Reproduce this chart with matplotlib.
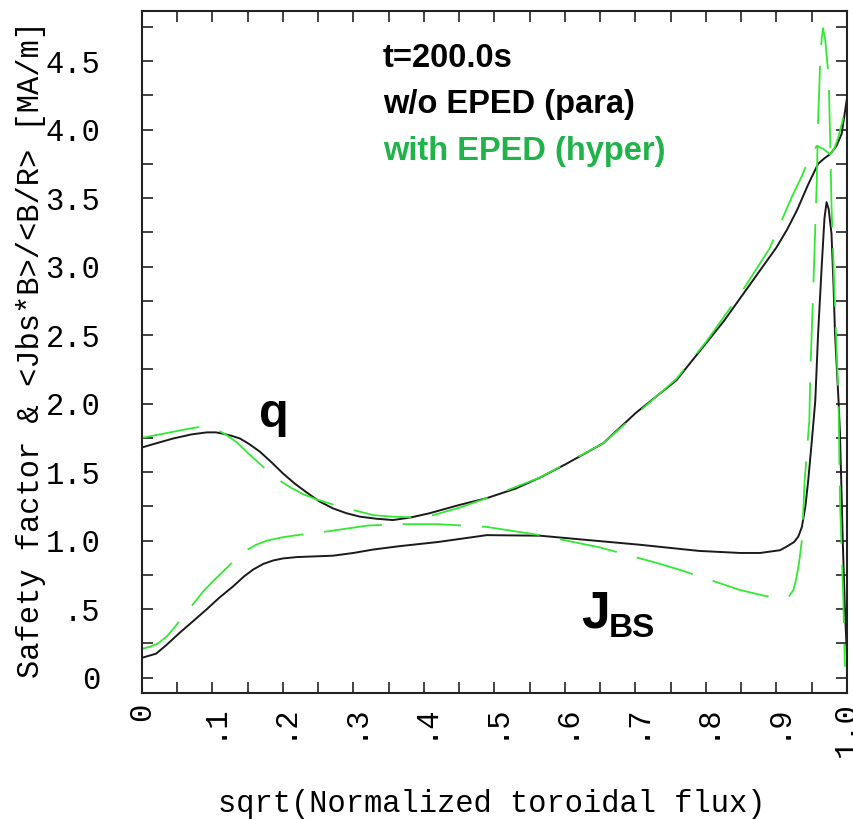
import matplotlib
matplotlib.use("Agg")
import matplotlib.pyplot as plt
from matplotlib.ticker import FixedLocator, FixedFormatter

# ---------------- data ----------------
q_para_x = [0.0, 0.02, 0.044, 0.07, 0.092, 0.105, 0.115, 0.127, 0.139, 0.152, 0.167,
            0.183, 0.2, 0.217, 0.234, 0.252, 0.271, 0.29, 0.309, 0.332, 0.356,
            0.382, 0.408, 0.45, 0.489, 0.53, 0.5645, 0.60, 0.654, 0.70, 0.758,
            0.80, 0.825, 0.85, 0.875, 0.90, 0.915, 0.929, 0.945, 0.959, 0.968,
            0.976, 0.985, 0.9925, 1.0]
q_para_y = [1.68, 1.71, 1.745, 1.775, 1.79, 1.79, 1.78, 1.765, 1.745, 1.705, 1.65,
            1.575, 1.49, 1.415, 1.35, 1.285, 1.235, 1.20, 1.175, 1.16, 1.15,
            1.17, 1.20, 1.26, 1.31, 1.38, 1.46, 1.555, 1.71, 1.93, 2.17,
            2.44, 2.60, 2.78, 2.96, 3.14, 3.27, 3.41, 3.60, 3.75, 3.79,
            3.82, 3.88, 3.97, 4.23]

q_hyper_x = [0.0, 0.04, 0.065, 0.082, 0.10, 0.11, 0.12, 0.135, 0.15, 0.165, 0.18,
             0.195, 0.21, 0.228, 0.248, 0.27, 0.29, 0.31, 0.328, 0.355, 0.385,
             0.413, 0.45, 0.489, 0.5645, 0.654, 0.758, 0.80, 0.85, 0.89,
             0.921, 0.936, 0.947, 0.957, 0.966, 0.976, 0.982, 0.988, 0.994, 1.0]
q_hyper_y = [1.75, 1.79, 1.815, 1.83, 1.82, 1.80, 1.77, 1.715, 1.64, 1.57, 1.50,
             1.44, 1.39, 1.34, 1.30, 1.265, 1.235, 1.21, 1.186, 1.175, 1.17,
             1.186, 1.24, 1.31, 1.46, 1.71, 2.18, 2.45, 2.81, 3.13,
             3.50, 3.66, 3.80, 3.88, 3.86, 3.82, 3.86, 3.95, 4.07, 4.23]

jbs_para_x = [0.0, 0.02, 0.035, 0.054, 0.072, 0.092, 0.11, 0.129, 0.145, 0.158,
              0.172, 0.186, 0.20, 0.22, 0.245, 0.271, 0.30, 0.328, 0.366, 0.42,
              0.489, 0.5645, 0.62, 0.706, 0.79, 0.848, 0.877, 0.905, 0.914,
              0.925, 0.931, 0.936, 0.941, 0.945, 0.95, 0.955, 0.959, 0.964,
              0.968, 0.971, 0.974, 0.978, 0.981, 0.983, 0.988, 0.990, 0.992,
              0.9937, 0.997, 1.0]
jbs_para_y = [0.145, 0.175, 0.24, 0.33, 0.41, 0.50, 0.585, 0.665, 0.74, 0.79,
              0.83, 0.855, 0.87, 0.88, 0.885, 0.89, 0.91, 0.935, 0.96, 0.99,
              1.04, 1.036, 1.01, 0.97, 0.925, 0.91, 0.91, 0.93, 0.955,
              0.99, 1.03, 1.10, 1.25, 1.44, 1.72, 2.02, 2.51, 2.99,
              3.35, 3.47, 3.42, 3.24, 2.85, 2.51, 2.02, 1.78, 1.40,
              1.05, 0.5, 0.15]

jbs_hyper_x = [0.0, 0.011, 0.023, 0.035, 0.045, 0.066, 0.087, 0.10, 0.12, 0.135,
               0.148, 0.162, 0.177, 0.20, 0.22, 0.267, 0.32, 0.366, 0.42, 0.489,
               0.5645, 0.621, 0.65, 0.735, 0.767, 0.848, 0.881, 0.895, 0.91,
               0.918, 0.924, 0.928, 0.932, 0.936, 0.940, 0.9466, 0.948, 0.952,
               0.957, 0.959, 0.962, 0.964, 0.966, 0.969, 0.974, 0.976, 0.978,
               0.983, 0.988, 0.990, 0.9948, 0.997]
jbs_hyper_y = [0.21, 0.225, 0.25, 0.30, 0.36, 0.495, 0.63, 0.70, 0.80, 0.875,
               0.93, 0.97, 1.00, 1.025, 1.04, 1.07, 1.11, 1.12, 1.12, 1.10,
               1.04, 0.98, 0.95, 0.83, 0.78, 0.64, 0.60, 0.585, 0.575,
               0.595, 0.64, 0.72, 0.84, 1.00, 1.44, 1.88, 2.22, 2.82,
               3.60, 4.06, 4.50, 4.66, 4.74, 4.66, 4.38, 3.95, 3.45,
               2.70, 2.02, 1.30, 0.57, 0.08]

x_major = [0.0, 0.1, 0.2, 0.3, 0.4, 0.5, 0.6, 0.7, 0.8, 0.9, 1.0]
x_labels = ["0", ".1", ".2", ".3", ".4", ".5", ".6", ".7", ".8", ".9", "1.0"]
y_major = [0.0, 0.5, 1.0, 1.5, 2.0, 2.5, 3.0, 3.5, 4.0, 4.5]
y_labels = ["0", ".5", "1.0", "1.5", "2.0", "2.5", "3.0", "3.5", "4.0", "4.5"]
x_minor = [0.05, 0.15, 0.25, 0.35, 0.45, 0.55, 0.65, 0.75, 0.85, 0.95]
y_minor = [0.25, 0.75, 1.25, 1.75, 2.25, 2.75, 3.25, 3.75, 4.25, 4.75]

title_lines = ["t=200.0s", "w/o EPED (para)", "with EPED (hyper)"]

# ---------------- figure ----------------
W, H = 854, 819
fig = plt.figure(figsize=(W / 100, H / 100), dpi=100)
L, R, T, B = 142, 847, 11, 693
ax = fig.add_axes([L / W, 1 - B / H, (R - L) / W, (B - T) / H])

GREEN_LINE = "#33e833"
GREEN_TEXT = "#1fb34a"
plt.rcParams['lines.scale_dashes'] = False

ax.plot(q_para_x, q_para_y, color="#1a1a1a", lw=1.4, solid_joinstyle="round")
ax.plot(jbs_para_x, jbs_para_y, color="#1a1a1a", lw=1.4, solid_joinstyle="round")
ax.plot(q_hyper_x, q_hyper_y, color=GREEN_LINE, lw=1.3, linestyle=(0, (42, 15)))
ax.plot(jbs_hyper_x, jbs_hyper_y, color=GREEN_LINE, lw=1.3, linestyle=(8, (42, 15)))

ax.set_xlim(0, 1.0)
ax.set_ylim(-0.112, 4.865)

mono = "Liberation Mono"
ax.xaxis.set_major_locator(FixedLocator(x_major))
ax.xaxis.set_major_formatter(FixedFormatter(x_labels))
ax.xaxis.set_minor_locator(FixedLocator(x_minor))
ax.yaxis.set_major_locator(FixedLocator(y_major))
ax.yaxis.set_major_formatter(FixedFormatter(y_labels))
ax.yaxis.set_minor_locator(FixedLocator(y_minor))
ax.tick_params(which="both", direction="in", length=8, width=1.2, color="#222222",
               top=True, right=True)
ax.tick_params(axis="y", which="major", pad=30)
ax.tick_params(axis="x", which="major", pad=7)
for lab in ax.get_xticklabels():
    lab.set_fontfamily(mono)
    lab.set_fontsize(22)
    lab.set_rotation(90)
for lab in ax.get_yticklabels():
    lab.set_fontfamily(mono)
    lab.set_fontsize(22)
for s in ax.spines.values():
    s.set_linewidth(1.5)
    s.set_color("#222222")

fig.text(492 / W, 1 - 812 / H, "sqrt(Normalized toroidal flux)", family=mono,
         fontsize=22, ha="center", va="baseline")
fig.text(31 / W, 1 - 349 / H, "Safety factor & <Jbs*B>/<B/R> [MA/m]", family=mono,
         fontsize=22, ha="center", va="center", rotation=90)

sans = "Liberation Sans"
fig.text(383 / W, 1 - 67 / H, title_lines[0], family=sans, weight="bold",
         fontsize=23.5, color="black", va="baseline")
fig.text(383 / W, 1 - 113 / H, title_lines[1], family=sans, weight="bold",
         fontsize=23.5, color="black", va="baseline")
fig.text(383 / W, 1 - 160 / H, title_lines[2], family=sans, weight="bold",
         fontsize=23.5, color=GREEN_TEXT, va="baseline")

fig.text(259 / W, 1 - 427 / H, "q", family=sans, weight="bold", fontsize=35,
         va="baseline")
fig.text(581 / W, 1 - 627 / H, "J", family=sans, weight="bold", fontsize=37,
         va="baseline")
fig.text(609 / W, 1 - 637 / H, "BS", family=sans, weight="bold", fontsize=24,
         va="baseline")

fig.savefig("out.png", dpi=100)
